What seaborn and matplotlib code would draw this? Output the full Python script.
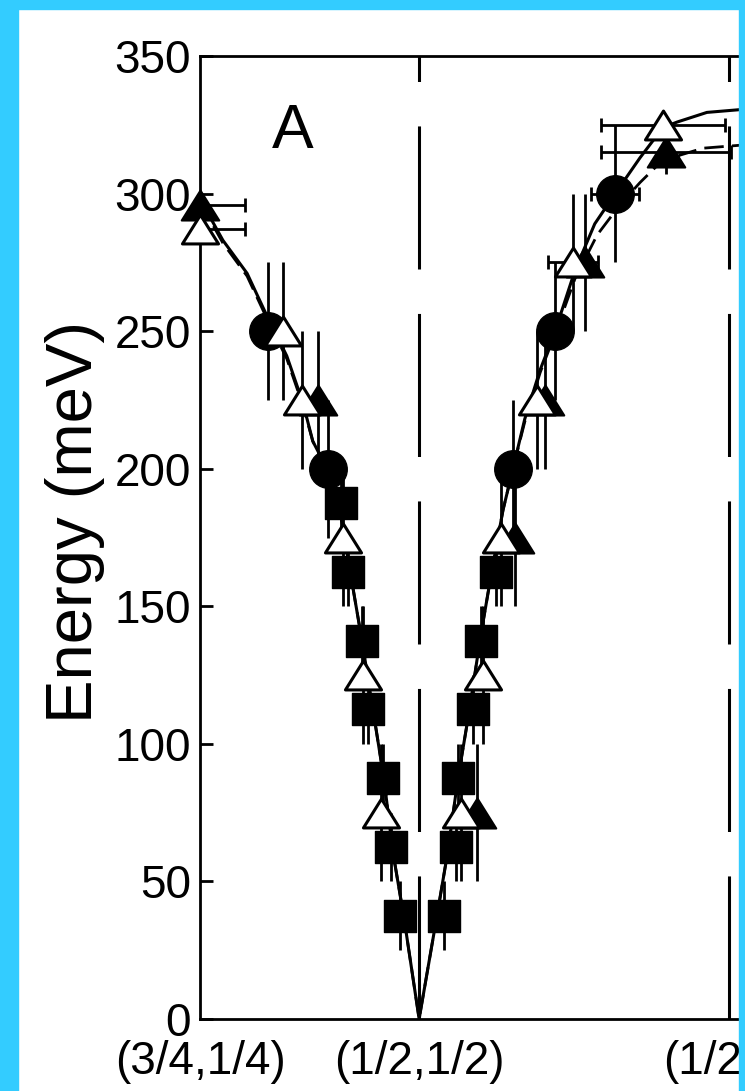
import matplotlib
matplotlib.use("Agg")
import matplotlib.pyplot as plt
import seaborn as sns
import numpy as np
from matplotlib.path import Path
from matplotlib.patches import Rectangle

# ---------------- data ----------------
tick_pos = [0.0, 0.3536, 0.8536]
tick_labels = ["(3/4,1/4)", "(1/2,1/2)", "(1/2,0)"]
y_ticks = [0, 50, 100, 150, 200, 250, 300, 350]

# filled squares
sq_q = [0.228, 0.239, 0.261, 0.271, 0.295, 0.309, 0.323, 0.394, 0.413, 0.417, 0.440, 0.454, 0.477]
sq_E = [187.5, 162.5, 137.5, 112.5, 87.5, 62.5, 37.5, 37.5, 62.5, 87.5, 112.5, 137.5, 162.5]
sq_Eerr = [12.5] * 13

# filled circles
circ_q = [0.110, 0.206, 0.505, 0.573, 0.670]
circ_E = [250, 200, 200, 250, 300]
circ_Eerr = [25, 25, 25, 25, 25]
circ_qerr = [0, 0, 0, 0, 0.039]

# filled triangles
ftri_q = [0.0, 0.190, 0.447, 0.508, 0.557, 0.621, 0.752]
ftri_E = [296, 225, 75, 175, 225, 275, 315]
ftri_Eerr = [4, 25, 25, 25, 25, 25, 8]
ftri_qerr = [0.073, 0, 0, 0, 0, 0, 0.105]

# open triangles
otri_q = [0.0, 0.134, 0.165, 0.231, 0.263, 0.292, 0.421, 0.457, 0.485, 0.544, 0.602, 0.747]
otri_E = [287, 250, 225, 175, 125, 75, 75, 125, 175, 225, 275, 325]
otri_Eerr = [4, 25, 25, 25, 25, 25, 25, 25, 25, 25, 25, 4]
otri_qerr = [0.073, 0, 0, 0, 0, 0, 0, 0, 0, 0, 0.04, 0.10]

# model curves
solid_q = [0.0, 0.037, 0.076, 0.105, 0.140, 0.166, 0.182, 0.205, 0.226, 0.242, 0.261,
           0.278, 0.297, 0.311, 0.329, 0.3536, 0.382, 0.400, 0.416, 0.436, 0.452, 0.471,
           0.489, 0.505, 0.524, 0.549, 0.573, 0.605, 0.637, 0.670, 0.710, 0.747, 0.770,
           0.818, 0.871, 0.88]
solid_E = [298, 283, 271, 257, 241, 224, 210, 200, 185, 163, 138, 114, 87, 61, 37, 0,
           37, 61, 87, 114, 138, 163, 185, 200, 218, 236, 250, 272, 289, 300, 313, 324,
           326, 329.5, 330.5, 331]
dashed_q = [0.0, 0.037, 0.076, 0.105, 0.140, 0.166, 0.182, 0.205, 0.226, 0.242, 0.261,
            0.278, 0.297, 0.311, 0.329, 0.3536, 0.382, 0.400, 0.416, 0.436, 0.452, 0.471,
            0.489, 0.505, 0.524, 0.549, 0.573, 0.605, 0.641, 0.678, 0.710, 0.737, 0.775,
            0.812, 0.879]
dashed_E = [297, 282, 270, 256, 240, 223, 210, 200, 185, 163, 138, 114, 87, 61, 37, 0,
            37, 61, 87, 114, 138, 163, 185, 200, 217, 235, 249, 269, 285, 296, 304, 310,
            314, 316.5, 317.7]

# ---------------- styling ----------------
sns.set_theme(style="ticks")
plt.rcParams["font.family"] = ["Liberation Sans", "DejaVu Sans"]
plt.rcParams["lines.scale_dashes"] = False

W, H = 745, 1091
fig = plt.figure(figsize=(W / 100, H / 100), dpi=100)
fig.patch.set_facecolor("white")

px_per_q = 619.7
xmax = 1.0
ax = fig.add_axes([200 / W, (H - 1019) / H, px_per_q * xmax / W, 963 / H])
ax.set_xlim(0, xmax)
ax.set_ylim(0, 350)

# dashed zone boundary lines
for xp in tick_pos[1:]:
    ax.plot([xp, xp], [0, 350], color="black", lw=2.2, linestyle=(0, (103, 32)), zorder=1)

# model curves
sns.lineplot(x=solid_q, y=solid_E, sort=False, estimator=None, color="black", lw=2.2,
             ax=ax, zorder=2)
sns.lineplot(x=dashed_q, y=dashed_E, sort=False, estimator=None, color="black", lw=2.0,
             linestyle=(0, (14, 6)), ax=ax, zorder=2)

# error bars: vertical (no caps) and horizontal (with caps)
for qs, Es, yerr in [(sq_q, sq_E, sq_Eerr), (circ_q, circ_E, circ_Eerr),
                     (ftri_q, ftri_E, ftri_Eerr), (otri_q, otri_E, otri_Eerr)]:
    ax.errorbar(qs, Es, yerr=yerr, fmt="none", ecolor="black", elinewidth=2, capsize=0, zorder=3)
for qs, Es, xerr in [(circ_q, circ_E, circ_qerr), (ftri_q, ftri_E, ftri_qerr),
                     (otri_q, otri_E, otri_qerr)]:
    ax.errorbar(qs, Es, xerr=xerr, fmt="none", ecolor="black", elinewidth=2, capsize=5,
                capthick=2, zorder=3)

tri = Path([(0, 0.8), (-1, -0.8), (1, -0.8), (0, 0.8)],
           [Path.MOVETO, Path.LINETO, Path.LINETO, Path.CLOSEPOLY])

sns.scatterplot(x=ftri_q, y=ftri_E, marker=tri, s=27 ** 2, color="black", edgecolor="black",
                linewidth=1.5, ax=ax, zorder=4, clip_on=False)
sns.scatterplot(x=circ_q, y=circ_E, marker="o", s=27 ** 2, color="black", edgecolor="black",
                linewidth=1, ax=ax, zorder=5, clip_on=False)
sns.scatterplot(x=sq_q, y=sq_E, marker="s", s=23 ** 2, color="black", edgecolor="black",
                linewidth=1, ax=ax, zorder=5, clip_on=False)
sns.scatterplot(x=otri_q, y=otri_E, marker=tri, s=26 ** 2, color="white", edgecolor="black",
                linewidth=2.2, ax=ax, zorder=6, clip_on=False)

# axes cosmetics
for side in ["left", "bottom", "top", "right"]:
    ax.spines[side].set_linewidth(2)
    ax.spines[side].set_color("black")
ax.set_yticks(y_ticks)
ax.set_xticks(tick_pos)
ax.set_xticklabels(tick_labels)
ax.tick_params(axis="y", direction="in", length=9.5, width=2, pad=6.5, labelsize=33,
               colors="black")
ax.tick_params(axis="x", direction="in", length=0, pad=15, labelsize=33, colors="black")
ax.set_ylabel("Energy (meV)", fontsize=47, color="black")
ax.yaxis.set_label_coords(-95 / (px_per_q * xmax), 0.516)
ax.set_xlabel("")

ax.text(0.150, 316.6, "A", fontsize=45, ha="center", va="baseline", color="black")

# cyan frame around the picture
cyan = "#33ccff"
fig.add_artist(Rectangle((0, 0), 18 / W, 1, transform=fig.transFigure, color=cyan, zorder=100))
fig.add_artist(Rectangle((0, 1 - 8.5 / H), 1, 8.5 / H, transform=fig.transFigure, color=cyan, zorder=100))
fig.add_artist(Rectangle((739 / W, 0), 6 / W, 1, transform=fig.transFigure, color=cyan, zorder=100))

fig.savefig("out.png", dpi=100)
